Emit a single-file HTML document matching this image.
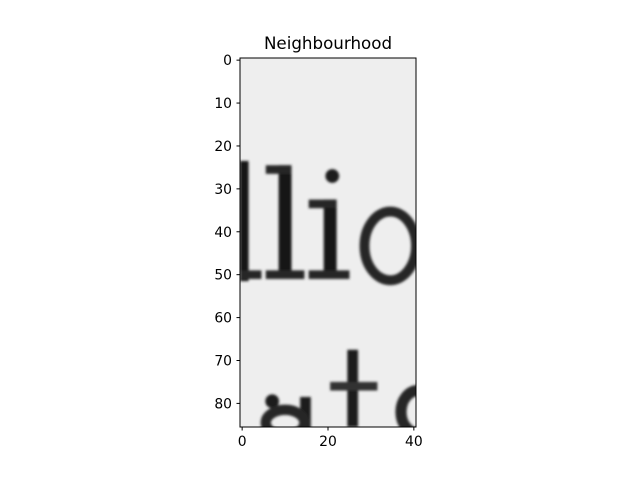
<!DOCTYPE html>
<html><head><meta charset="utf-8"><style>
body{margin:0;background:#fff;}
svg text{font-family:"DejaVu Sans","Liberation Sans",sans-serif;font-size:13.9px;fill:#000;}
</style></head><body>
<svg width="640" height="480" viewBox="0 0 640 480">
<defs><clipPath id="c"><rect x="240" y="58" width="176" height="369"/></clipPath><filter id="b"><feGaussianBlur stdDeviation="1.2"/></filter></defs>
<rect width="640" height="480" fill="#fff"/>
<text x="328" y="49" text-anchor="middle" style="font-size:16.7px">Neighbourhood</text>
<g id="img" clip-path="url(#c)"></g>
<rect x="240" y="58" width="176" height="369" fill="none" stroke="#000" stroke-width="1"/>
<g id="axes"></g>
</svg>
<script>
const xTicks=[0,20,40];
const yTicks=[0,10,20,30,40,50,60,70,80];
const imgW=41, imgH=86;
// glyph rectangles in image pixel coords: [col, row, width, height, gray]
const rects=[[0,24,2,28,20],[0,49.5,5,2,40],[9,25,3,26,25],[6,25,6,2,40],[6,49.5,9,2,40],
[19.5,33,3,18,25],[16,33,6.5,2,40],[16,49.5,9.5,2,40],[25,68,2.5,18,30],[21,75.5,11,2,50],[14,79,2.5,8,30]];
const ellipses=[[21,27,1.6,1.6,30],[7,79.5,1.6,1.6,30]];
const rings=[[34.5,43.3,6,8,2.3,40],[10,84.5,4.5,3,2.4,40],[41,82,4,5,2.6,40]];
const SX=x=>240+(x+0.5)*(176/imgW), SY=y=>58+(y+0.5)*(369/imgH);
const kx=176/imgW, ky=369/imgH;
const NS='http://www.w3.org/2000/svg';
const g=document.getElementById('img');
function mk(t,a){const e=document.createElementNS(NS,t);for(const k in a)e.setAttribute(k,a[k]);return e;}
const bg=mk('rect',{x:240,y:58,width:176,height:369,fill:'#eeeeee'});


g.appendChild(bg);
const gg=mk('g',{filter:'url(#b)'});g.appendChild(gg);
rects.forEach(r=>{const c=`rgb(${r[4]},${r[4]},${r[4]})`;const e=mk('rect',{x:SX(r[0]-0.5),y:SY(r[1]-0.5),width:r[2]*kx,height:r[3]*ky,fill:c});


gg.appendChild(e);});
ellipses.forEach(r=>{const e=mk('ellipse',{cx:SX(r[0]),cy:SY(r[1]),rx:r[2]*kx,ry:r[3]*ky,fill:`rgb(${r[4]},${r[4]},${r[4]})`});


gg.appendChild(e);});
rings.forEach(r=>{const e=mk('ellipse',{cx:SX(r[0]),cy:SY(r[1]),rx:r[2]*kx,ry:r[3]*ky,fill:'none',stroke:`rgb(${r[5]},${r[5]},${r[5]})`,'stroke-width':r[4]*kx});


gg.appendChild(e);});
const ax=document.getElementById('axes');
xTicks.forEach(t=>{const x=SX(t);ax.appendChild(mk('line',{x1:x,x2:x,y1:427,y2:430.5,stroke:'#000'}));
const tx=mk('text',{x:x,y:446,'text-anchor':'middle'});tx.textContent=t;


ax.appendChild(tx);});
yTicks.forEach(t=>{const y=SY(t);ax.appendChild(mk('line',{x1:236.5,x2:240,y1:y,y2:y,stroke:'#000'}));
const tx=mk('text',{x:232,y:y+5,'text-anchor':'end'});tx.textContent=t;


ax.appendChild(tx);});
</script>
</body></html>
